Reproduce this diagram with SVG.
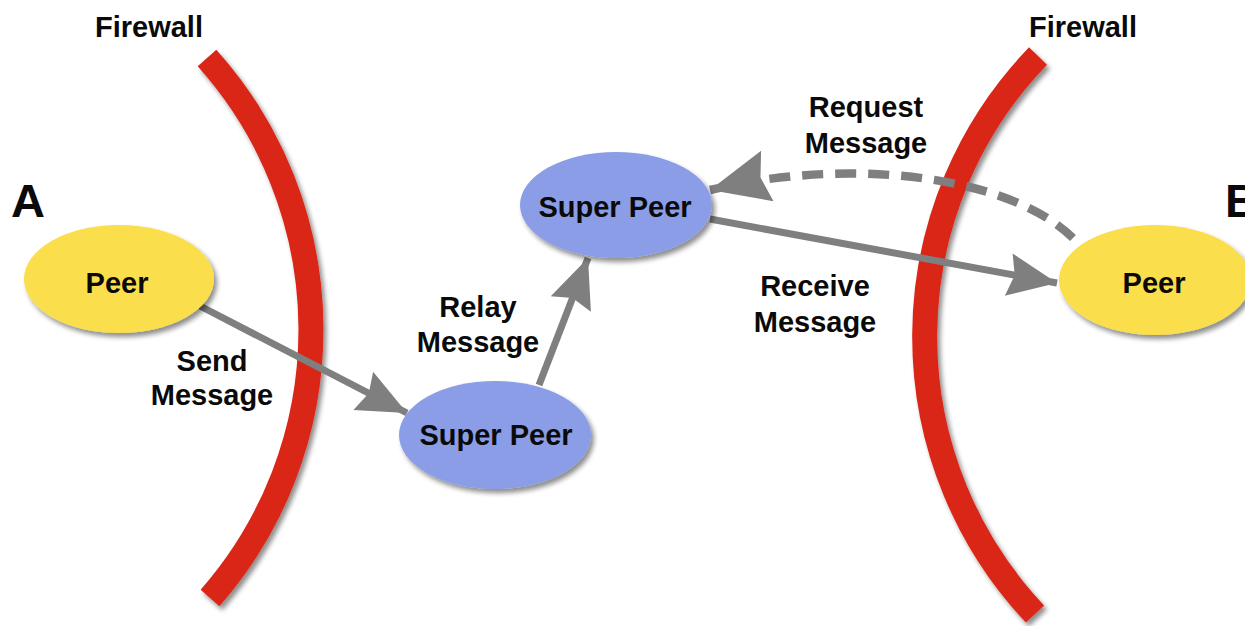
<svg xmlns="http://www.w3.org/2000/svg" width="1245" height="626" viewBox="0 0 1245 626">
  <defs>
    <style>
      text { font-family: "Liberation Sans", Arial, sans-serif; font-weight: bold; fill: #0a0a0a; text-anchor: middle; }
      .lbl { font-size: 29px; }
      .side { font-size: 47px; }
      .wall { fill: none; stroke: #da2519; stroke-width: 25; stroke-linecap: butt; }
      .peer { fill: #fade4c; }
      .super { fill: #8a9de6; }
      .link { fill: none; stroke: #7f7f7f; stroke-width: 7; }
      .dash { fill: none; stroke: #7f7f7f; stroke-width: 8.5; stroke-dasharray: 21 12; }
    </style>
    <filter id="shadow" x="-20%" y="-20%" width="140%" height="140%">
      <feGaussianBlur in="SourceAlpha" stdDeviation="2.5"/>
      <feOffset dx="3" dy="4" result="off"/>
      <feComponentTransfer><feFuncA type="linear" slope="0.45"/></feComponentTransfer>
      <feMerge><feMergeNode/><feMergeNode in="SourceGraphic"/></feMerge>
    </filter>
    <marker id="head" markerUnits="userSpaceOnUse" viewBox="-52 -24 54 48" refX="0" refY="0" markerWidth="54" markerHeight="48" orient="auto" overflow="visible">
      <path d="M0,0 L-49,-21 L-43,0 L-49,22 Z" fill="#7f7f7f"/>
    </marker>
    <marker id="head-lg" markerUnits="userSpaceOnUse" viewBox="-62 -28 64 56" refX="0" refY="0" markerWidth="64" markerHeight="56" orient="auto" overflow="visible">
      <path d="M0,0 L-59,-26 L-52,0 L-59,26 Z" fill="#7f7f7f"/>
    </marker>
  </defs>

  <!-- firewalls -->
  <g id="firewall-left">
    <path class="wall" d="M207,58 A407,407 0 0 1 210,598" filter="url(#shadow)"/>
    <text class="lbl" x="149" y="37">Firewall</text>
  </g>
  <g id="firewall-right">
    <path class="wall" d="M1038,56 A404,404 0 0 0 1035,614" filter="url(#shadow)"/>
    <text class="lbl" x="1083" y="37">Firewall</text>
  </g>

  <!-- connectors -->
  <g id="connectors">
    <path class="link" d="M200,306 L407,413" marker-end="url(#head)"/>
    <path class="link" d="M539,385 L588,258" marker-end="url(#head)"/>
    <path class="link" d="M710,219 L1057,283" marker-end="url(#head)"/>
    <path class="dash" d="M1073,238 C1005,172 840,158 710,190" marker-end="url(#head-lg)"/>
    <text class="lbl" x="212" y="371">Send</text>
    <text class="lbl" x="212" y="405">Message</text>
    <text class="lbl" x="478" y="317">Relay</text>
    <text class="lbl" x="478" y="352">Message</text>
    <text class="lbl" x="815" y="296">Receive</text>
    <text class="lbl" x="815" y="332">Message</text>
    <text class="lbl" x="866" y="117">Request</text>
    <text class="lbl" x="866" y="153">Message</text>
  </g>

  <!-- nodes -->
  <g id="peer-a">
    <text class="side" x="28" y="217">A</text>
    <ellipse class="peer" cx="119" cy="279" rx="95" ry="54" filter="url(#shadow)"/>
    <text class="lbl" x="117" y="293">Peer</text>
  </g>
  <g id="super-peer-top">
    <ellipse class="super" cx="616" cy="205" rx="96" ry="53" filter="url(#shadow)"/>
    <text class="lbl" x="615" y="217">Super Peer</text>
  </g>
  <g id="super-peer-bottom">
    <ellipse class="super" cx="495" cy="435" rx="96" ry="54" filter="url(#shadow)"/>
    <text class="lbl" x="496" y="445">Super Peer</text>
  </g>
  <g id="peer-b">
    <text class="side" x="1242" y="217">B</text>
    <ellipse class="peer" cx="1155" cy="280" rx="96" ry="55" filter="url(#shadow)"/>
    <text class="lbl" x="1154" y="293">Peer</text>
  </g>
</svg>
